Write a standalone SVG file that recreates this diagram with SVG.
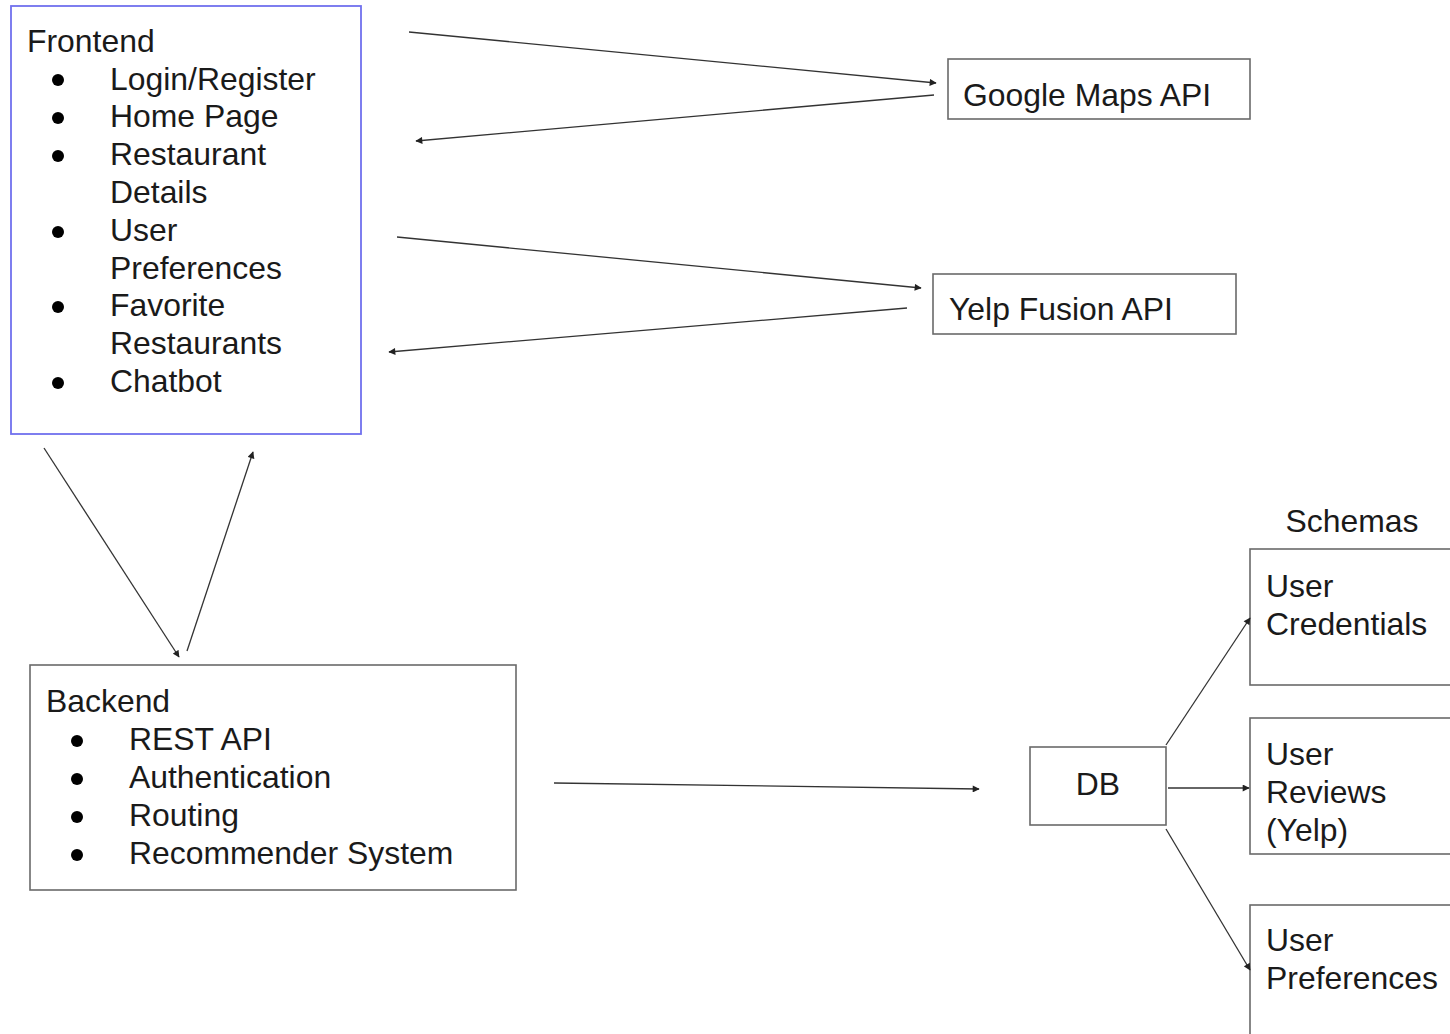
<svg xmlns="http://www.w3.org/2000/svg" width="1450" height="1034" viewBox="0 0 1450 1034">
<style>
text{font-family:"Liberation Sans",Arial,sans-serif;font-size:31.9px;fill:#1a1a1a}
.box{fill:#fff;stroke:#6a6a6a;stroke-width:1.6}
.fbox{fill:#fff;stroke:#7070ee;stroke-width:1.8}
.conn{stroke:#333;stroke-width:1.3;fill:none;marker-end:url(#ah)}
.dot{fill:#000}
</style>
<defs>
<marker id="ah" viewBox="0 0 10 10" refX="9" refY="5" markerWidth="8" markerHeight="7" markerUnits="userSpaceOnUse" orient="auto">
<path d="M0,0 L10,5 L0,10 z" fill="#222"/>
</marker>
</defs>
<rect width="1450" height="1034" fill="#fff"/>
<g id="frontend">
<rect class="fbox" x="11" y="6" width="350" height="428"/>
<text x="27" y="52">Frontend</text>
<circle class="dot" cx="58" cy="80" r="6"/><text x="110" y="90">Login/Register</text>
<circle class="dot" cx="58" cy="118" r="6"/><text x="110" y="127">Home Page</text>
<circle class="dot" cx="58" cy="156" r="6"/><text x="110" y="165">Restaurant</text>
<text x="110" y="203">Details</text>
<circle class="dot" cx="58" cy="232" r="6"/><text x="110" y="241">User</text>
<text x="110" y="279">Preferences</text>
<circle class="dot" cx="58" cy="307" r="6"/><text x="110" y="316">Favorite</text>
<text x="110" y="354">Restaurants</text>
<circle class="dot" cx="58" cy="383" r="6"/><text x="110" y="392">Chatbot</text>
</g>
<g id="google-maps">
<rect class="box" x="948" y="59" width="302" height="60"/>
<text x="963" y="106">Google Maps API</text>
</g>
<g id="yelp">
<rect class="box" x="933" y="274" width="303" height="60"/>
<text x="949" y="320">Yelp Fusion API</text>
</g>
<g id="backend">
<rect class="box" x="30" y="665" width="486" height="225"/>
<text x="46" y="712">Backend</text>
<circle class="dot" cx="77" cy="741" r="6"/><text x="129" y="750">REST API</text>
<circle class="dot" cx="77" cy="779" r="6"/><text x="129" y="788">Authentication</text>
<circle class="dot" cx="77" cy="817" r="6"/><text x="129" y="826">Routing</text>
<circle class="dot" cx="77" cy="855" r="6"/><text x="129" y="864">Recommender System</text>
</g>
<g id="db">
<rect class="box" x="1030" y="747" width="136" height="78"/>
<text x="1098" y="795" text-anchor="middle">DB</text>
</g>
<g id="schemas-label">
<text x="1352" y="532" text-anchor="middle">Schemas</text>
</g>
<g id="user-credentials">
<rect class="box" x="1250" y="549" width="220" height="136"/>
<text x="1266" y="597">User</text>
<text x="1266" y="635">Credentials</text>
</g>
<g id="user-reviews">
<rect class="box" x="1250" y="718" width="220" height="136"/>
<text x="1266" y="765">User</text>
<text x="1266" y="803">Reviews</text>
<text x="1266" y="841">(Yelp)</text>
</g>
<g id="user-preferences">
<rect class="box" x="1250" y="905" width="220" height="160"/>
<text x="1266" y="951">User</text>
<text x="1266" y="989">Preferences</text>
</g>
<g id="connectors">
<path class="conn" d="M409,32 L936,83"/>
<path class="conn" d="M934,95 L416,141"/>
<path class="conn" d="M397,237 L921,288"/>
<path class="conn" d="M907,308 L389,352"/>
<path class="conn" d="M44,448 L179,657"/>
<path class="conn" d="M187,651 L253,452"/>
<path class="conn" d="M554,783 L979,789"/>
<path class="conn" d="M1166,745 L1250,618"/>
<path class="conn" d="M1168,788 L1249,788"/>
<path class="conn" d="M1166,829 L1250,970"/>
</g>
</svg>
